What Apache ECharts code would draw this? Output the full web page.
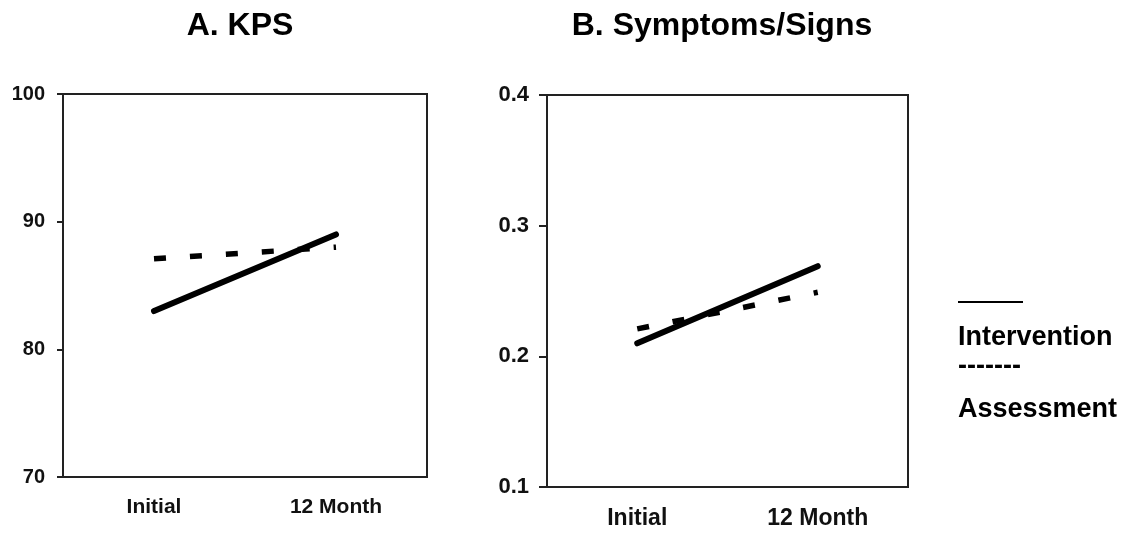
<!DOCTYPE html>
<html>
<head>
<meta charset="utf-8">
<script src="https://cdn.jsdelivr.net/npm/echarts@6/dist/echarts.min.js"></script>
<style>
html,body{margin:0;padding:0;background:#fff;}
#chart{width:1147px;height:536px;}
</style>
</head>
<body>
<div id="chart"></div>
<script>
var categories = ['Initial', '12 Month'];
var kpsTicks = [70, 80, 90, 100];
var symTicks = [0.1, 0.2, 0.3, 0.4];
var kpsIntervention = [83, 89];
var kpsAssessment = [87.1, 88];
var symIntervention = [0.21, 0.269];
var symAssessment = [0.221, 0.249];

var FONT = '"Liberation Sans", Arial, Helvetica, sans-serif';
var chart = echarts.init(document.getElementById('chart'), null, {renderer: 'canvas'});

function xAxis(idx, size) {
  return {
    type: 'category', gridIndex: idx, data: categories, boundaryGap: true,
    axisLine: {show: true, lineStyle: {color: '#222', width: 2}},
    axisTick: {show: false},
    axisLabel: {color: '#111', fontFamily: FONT, fontWeight: 'bold', fontSize: size, margin: 20}
  };
}
function yAxis(idx, ticks, size, dec, tick) {
  return {
    type: 'value', gridIndex: idx,
    min: ticks[0], max: ticks[ticks.length - 1], interval: ticks[1] - ticks[0],
    splitLine: {show: false},
    axisLine: {show: true, lineStyle: {color: '#222', width: 2}},
    axisTick: {show: true, length: tick, lineStyle: {color: '#222', width: 2}},
    axisLabel: {color: '#111', fontFamily: FONT, fontWeight: 'bold', fontSize: size, margin: 18,
      formatter: function (v) { return dec ? v.toFixed(1) : String(Math.round(v)); }}
  };
}
function solid(x, data) {
  return {type: 'line', xAxisIndex: x, yAxisIndex: x, data: data, symbol: 'none', silent: true,
    lineStyle: {color: '#000', width: 6, cap: 'round'}};
}
function dashed(x, data) {
  return {type: 'line', xAxisIndex: x, yAxisIndex: x, data: data, symbol: 'none', silent: true,
    lineStyle: {color: '#000', width: 5.5, type: [12, 24], cap: 'butt'}};
}

chart.setOption({
  animation: false,
  backgroundColor: '#fff',
  grid: [
    {left: 63, top: 94, width: 364, height: 383, show: true, borderColor: '#222', borderWidth: 2},
    {left: 547, top: 95, width: 361, height: 392, show: true, borderColor: '#222', borderWidth: 2}
  ],
  xAxis: [xAxis(0, 21), xAxis(1, 23)],
  yAxis: [yAxis(0, kpsTicks, 20, false, 6), yAxis(1, symTicks, 22, true, 8)],
  series: [
    dashed(0, kpsAssessment),
    solid(0, kpsIntervention),
    dashed(1, symAssessment),
    solid(1, symIntervention)
  ],
  graphic: [
    {type: 'text', x: 240, y: 26, style: {text: 'A. KPS', font: 'bold 32px ' + FONT, fill: '#000', align: 'center', verticalAlign: 'middle'}},
    {type: 'text', x: 722, y: 26, style: {text: 'B. Symptoms/Signs', font: 'bold 32px ' + FONT, fill: '#000', align: 'center', verticalAlign: 'middle'}},
    {type: 'line', shape: {x1: 958, y1: 302, x2: 1023, y2: 302}, style: {stroke: '#000', lineWidth: 2}},
    {type: 'text', x: 958, y: 338, style: {text: 'Intervention', font: 'bold 27px ' + FONT, fill: '#000', align: 'left', verticalAlign: 'middle'}},
    {type: 'text', x: 958, y: 367, style: {text: '-------', font: 'bold 27px ' + FONT, fill: '#000', align: 'left', verticalAlign: 'middle'}},
    {type: 'text', x: 958, y: 410, style: {text: 'Assessment', font: 'bold 27px ' + FONT, fill: '#000', align: 'left', verticalAlign: 'middle'}}
  ]
});
</script>
</body>
</html>
